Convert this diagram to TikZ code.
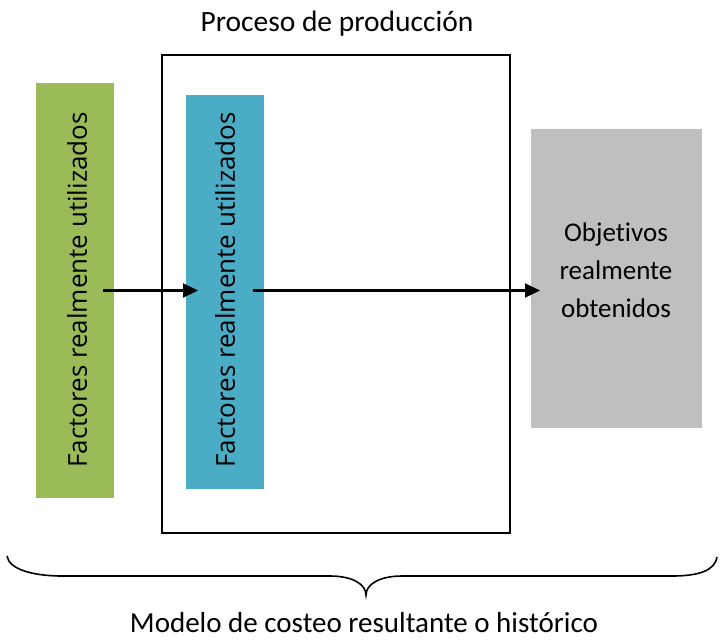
\documentclass[tikz,border=0pt]{standalone}
\usepackage{fontspec}
\setmainfont{Carlito}[RawFeature=-liga]
\newfontfamily\vfont{Open Sans}[RawFeature=-liga]
\usetikzlibrary{arrows.meta}
\definecolor{cgreen}{HTML}{9BBB59}
\definecolor{cblue}{HTML}{4BACC6}
\definecolor{cgrey}{HTML}{BFBFBF}
\tikzset{
  bar/.style={inner sep=0pt, outer sep=0pt},
  vtext/.style={rotate=90, font=\vfont\fontsize{26}{30}\selectfont},
  conn/.style={line width=2.2pt, -{Triangle[length=15pt,width=14pt]}},
}
\begin{document}
\begin{tikzpicture}[x=1pt,y=-1pt]
\useasboundingbox (0,0) rectangle (722,640);
\node[bar, draw=black, line width=1.6pt, minimum width=348pt, minimum height=478pt] (frame) at (336,294) {};
\node[bar, fill=cgreen, minimum width=78pt, minimum height=415pt] (green) at (75,290.5) {};
\node[bar, fill=cblue, minimum width=78pt, minimum height=394pt] (blue) at (225,292) {};
\node[bar, fill=cgrey, minimum width=171pt, minimum height=299pt] (grey) at (616.5,278.5) {};
\node[vtext] (gt) at (77,290) {Factores realmente utilizados};
\node[vtext] (bt) at (225,290) {Factores realmente utilizados};
\node[align=center, font=\fontsize{27}{38}\selectfont] (gtext) at (616,270) {Objetivos\\realmente\\obtenidos};
\node[font=\fontsize{29.5}{34}\selectfont] (title) at (337,24) {Proceso de producción};
\node[font=\fontsize{29}{34}\selectfont] (bottom) at (364,623) {Modelo de costeo resultante o histórico};
\draw[conn] ([xshift=-11pt]green.east) -- ([xshift=12pt]blue.west |- green.east);
\draw[conn] ([xshift=-11pt]blue.east |- green.east) -- ([xshift=9pt]grey.west |- green.east);
\coordinate (bl) at (7,556);
\coordinate (br) at (717,557);
\coordinate (tip) at (366,595);
\draw[line width=1.6pt] (bl) .. controls (9,570) and (35,576) .. (62,576) -- (330,576)
  .. controls (352,576) and (366,584) .. (tip)
  .. controls (366,584) and (380,576) .. (402,576) -- (672,576)
  .. controls (700,576) and (715,570) .. (br);
\end{tikzpicture}
\end{document}
